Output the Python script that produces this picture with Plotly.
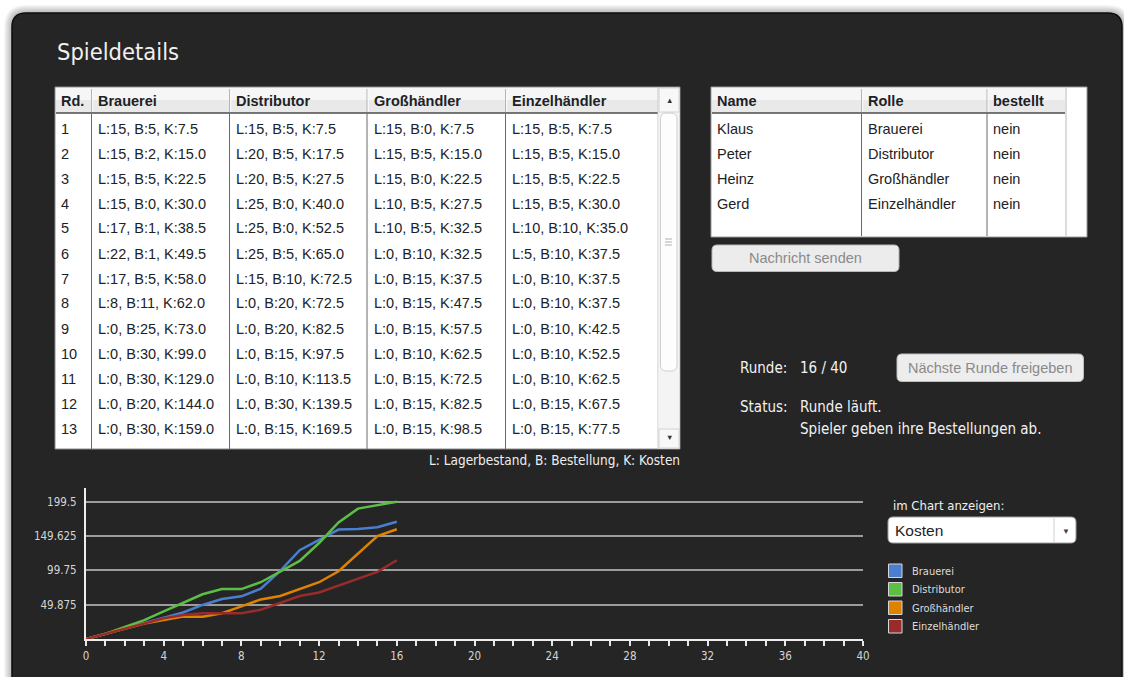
import plotly.graph_objects as go

W, H = 1124, 677

# ---------------- data ----------------
ROLES = ["Brauerei", "Distributor", "Großhändler", "Einzelhändler"]
COLORS = ["#4a7fd0", "#5cbf45", "#de8200", "#982b2b"]

# table (rounds 1..13): Lagerbestand, Bestellung, Kosten
table_rounds = list(range(1, 14))
brauerei_L = [15, 15, 15, 15, 17, 22, 17, 8, 0, 0, 0, 0, 0]
brauerei_B = [5, 2, 5, 0, 1, 1, 5, 11, 25, 30, 30, 20, 30]
brauerei_K = [7.5, 15.0, 22.5, 30.0, 38.5, 49.5, 58.0, 62.0, 73.0, 99.0, 129.0, 144.0, 159.0]
distributor_L = [15, 20, 20, 25, 25, 25, 15, 0, 0, 0, 0, 0, 0]
distributor_B = [5, 5, 5, 0, 0, 5, 10, 20, 20, 15, 10, 30, 15]
distributor_K = [7.5, 17.5, 27.5, 40.0, 52.5, 65.0, 72.5, 72.5, 82.5, 97.5, 113.5, 139.5, 169.5]
gross_L = [15, 15, 15, 10, 10, 0, 0, 0, 0, 0, 0, 0, 0]
gross_B = [0, 5, 0, 5, 5, 10, 15, 15, 15, 10, 15, 15, 15]
gross_K = [7.5, 15.0, 22.5, 27.5, 32.5, 32.5, 37.5, 47.5, 57.5, 62.5, 72.5, 82.5, 98.5]
einzel_L = [15, 15, 15, 15, 10, 5, 0, 0, 0, 0, 0, 0, 0]
einzel_B = [5, 5, 5, 5, 10, 10, 10, 10, 10, 10, 10, 15, 15]
einzel_K = [7.5, 15.0, 22.5, 30.0, 35.0, 37.5, 37.5, 37.5, 42.5, 52.5, 62.5, 67.5, 77.5]

# chart (rounds 0..16): cumulative costs
chart_rounds = list(range(0, 17))
cost_brauerei = [0, 7.5, 15, 22.5, 30, 38.5, 49.5, 58, 62, 73, 99, 129, 144, 159, 160, 162.5, 170.5]
cost_distributor = [0, 7.5, 17.5, 27.5, 40, 52.5, 65, 72.5, 72.5, 82.5, 97.5, 113.5, 139.5, 169.5, 189.5, 194.5, 199.5]
cost_gross = [0, 7.5, 15, 22.5, 27.5, 32.5, 32.5, 37.5, 47.5, 57.5, 62.5, 72.5, 82.5, 98.5, 124.5, 149.5, 159.5]
cost_einzel = [0, 7.5, 15, 22.5, 30, 35, 37.5, 37.5, 37.5, 42.5, 52.5, 62.5, 67.5, 77.5, 87.5, 97.5, 114.5]

y_tickvals = [49.875, 99.75, 149.625, 199.5]
y_ticktext = ["49.875", "99.75", "149.625", "199.5"]
x_max_rounds = 40

player_names = ["Klaus", "Peter", "Heinz", "Gerd"]
player_roles = ["Brauerei", "Distributor", "Großhändler", "Einzelhändler"]
player_ordered = ["nein", "nein", "nein", "nein"]

current_round, total_rounds = 16, 40

# ---------------- helpers ----------------
UI = "DejaVu Sans Condensed, Liberation Sans Narrow, Roboto Condensed, DejaVu Sans, sans-serif"
TF = "Liberation Sans, Arial, Helvetica, sans-serif"

shapes, annots = [], []


def X(p):
    return p / W


def Y(p):
    return 1 - p / H


def rect(x0, y0, x1, y1, fill, line=None, lw=1, opacity=1):
    shapes.append(dict(type="rect", xref="paper", yref="paper", x0=X(x0), x1=X(x1),
                       y0=Y(y1), y1=Y(y0), fillcolor=fill, opacity=opacity,
                       line=dict(color=line if line else "rgba(0,0,0,0)", width=lw if line else 0),
                       layer="below"))


def rrect(x0, y0, x1, y1, r, fill, line=None, lw=1, opacity=1):
    def P(a, b):
        return f"{X(a):.6f},{Y(b):.6f}"
    path = (f"M {P(x0 + r, y0)} L {P(x1 - r, y0)} Q {P(x1, y0)} {P(x1, y0 + r)} "
            f"L {P(x1, y1 - r)} Q {P(x1, y1)} {P(x1 - r, y1)} L {P(x0 + r, y1)} "
            f"Q {P(x0, y1)} {P(x0, y1 - r)} L {P(x0, y0 + r)} Q {P(x0, y0)} {P(x0 + r, y0)} Z")
    shapes.append(dict(type="path", xref="paper", yref="paper", path=path, fillcolor=fill,
                       opacity=opacity,
                       line=dict(color=line if line else "rgba(0,0,0,0)", width=lw if line else 0),
                       layer="below"))


def seg(x0, y0, x1, y1, color, w=1):
    shapes.append(dict(type="line", xref="paper", yref="paper", x0=X(x0), x1=X(x1),
                       y0=Y(y0), y1=Y(y1), line=dict(color=color, width=w), layer="below"))


def text(x, y, s, size, color, family, xanchor="left", weight="normal"):
    annots.append(dict(x=X(x), y=Y(y), xref="paper", yref="paper", text=s, showarrow=False,
                       xanchor=xanchor, yanchor="middle", borderpad=0,
                       font=dict(size=size, color=color, family=family, weight=weight)))


# ---------------- background panel ----------------
for i in range(8, 0, -1):
    rrect(12 - i, 13 - i, 1122 + i, 700 + i, 14 + i, "#000000", opacity=0.035)
rrect(12, 13, 1122, 700, 14, "#252525", line="#0d0d0d", lw=1.5)

text(56, 52, "Spieldetails", 23.5, "#f0f0f0", UI)

# ---------------- left table ----------------
TX0, TX1, TY0, TY1 = 55, 680, 87, 449
HY0, HY1 = 88, 113
col_x = [55, 91.5, 229.5, 367, 505.5, 658]
rect(TX0, TY0, TX1, TY1, "#ffffff", line="#8a8a8a", lw=1)
rect(TX0 + 1, HY0, 658, HY0 + 12, "#f6f6f6")
rect(TX0 + 1, HY0 + 12, 658, HY1, "#e9e9e9")
seg(TX0 + 1, HY1, 658, HY1, "#4a4a4a", 1.5)
for cx in col_x[1:-1]:
    seg(cx, HY0 + 1, cx, HY1 - 1, "#b5b5b5", 1)
    seg(cx + 1.3, HY0 + 1, cx + 1.3, HY1 - 1, "#fbfbfb", 1)
    seg(cx, HY1 + 1, cx, TY1, "#6a6a6a", 1)
seg(658, HY0, 658, TY1, "#c8c8c8", 1)

# scrollbar
rect(658.5, HY0, TX1 - 0.5, TY1 - 0.5, "#f4f4f4")
rect(659, HY0, TX1 - 1, 112, "#f8f8f8", line="#c9c9c9", lw=0.8)
text(669, 100.5, "▲", 7.5, "#333333", TF, xanchor="center")
rrect(660.5, 113, 677, 371, 6, "#fdfdfd", line="#c4c4c4", lw=0.8)
for gy in (239, 242, 245):
    seg(665, gy, 672, gy, "#b0b0b0", 1)
rect(659, 429, TX1 - 1, TY1 - 1, "#f8f8f8", line="#c9c9c9", lw=0.8)
text(669, 438, "▼", 7.5, "#333333", TF, xanchor="center")

TXT = "#1d2226"
headers = ["Rd.", "Brauerei", "Distributor", "Großhändler", "Einzelhändler"]
text_x = [60, 96.5, 234.5, 372.5, 510.5]
for hx, h in zip(text_x, headers):
    text(hx, 100.5, h, 14.5, TXT, TF, weight="bold")

role_cols = [(brauerei_L, brauerei_B, brauerei_K), (distributor_L, distributor_B, distributor_K),
             (gross_L, gross_B, gross_K), (einzel_L, einzel_B, einzel_K)]
for i, rd in enumerate(table_rounds):
    ry = 128.5 + 25 * i
    text(text_x[0], ry, str(rd), 14.5, TXT, TF)
    for c, (Ls, Bs, Ks) in enumerate(role_cols):
        text(text_x[c + 1], ry, f"L:{Ls[i]}, B:{Bs[i]}, K:{Ks[i]:.1f}", 14.5, TXT, TF)

text(681, 460.5, "L: Lagerbestand, B: Bestellung, K: Kosten", 13.5, "#eeeeee", UI, xanchor="right")

# ---------------- right table ----------------
RX0, RX1, RY0, RY1 = 711, 1087, 87, 237
rect(RX0, RY0, RX1, RY1, "#ffffff", line="#9a9a9a", lw=1)
rect(RX0 + 1, HY0, 1065, HY0 + 12, "#f6f6f6")
rect(RX0 + 1, HY0 + 12, 1065, HY1, "#e9e9e9")
seg(RX0 + 1, HY1, 1065, HY1, "#4a4a4a", 1.5)
seg(1066, HY0, 1066, RY1 - 1, "#dcdcdc", 2)
for cx in (861.5, 987):
    seg(cx, HY0 + 1, cx, HY1 - 1, "#b5b5b5", 1)
    seg(cx + 1.3, HY0 + 1, cx + 1.3, HY1 - 1, "#fbfbfb", 1)
    seg(cx, HY1 + 1, cx, RY1 - 1, "#6a6a6a", 1)
r_x = [716, 867, 991.5]
for hx, h in zip(r_x, ["Name", "Rolle", "bestellt"]):
    text(hx, 100.5, h, 14.5, TXT, TF, weight="bold")
for i in range(len(player_names)):
    ry = 128.5 + 25 * i
    text(r_x[0], ry, player_names[i], 14.5, TXT, TF)
    text(r_x[1], ry, player_roles[i], 14.5, TXT, TF)
    text(r_x[2], ry, player_ordered[i], 14.5, TXT, TF)

# buttons
rrect(712, 245, 899, 271.5, 5, "#ececec", line="#b8b8b8", lw=1)
text(805.5, 258.5, "Nachricht senden", 14.5, "#8a8a8a", TF, xanchor="center")
rrect(897, 354, 1083.5, 381.5, 5, "#ededed", line="#bdbdbd", lw=1)
text(990, 367.5, "Nächste Runde freigeben", 14.5, "#8a8a8a", TF, xanchor="center")

# status
text(738.5, 368, "Runde:", 15, "#f2f2f2", UI)
text(799, 368, f"{current_round} / {total_rounds}", 15, "#f2f2f2", UI)
text(738.5, 406.5, "Status:", 15, "#f2f2f2", UI)
text(799, 406.5, "Runde läuft.", 15, "#f2f2f2", UI)
text(799, 428.5, "Spieler geben ihre Bestellungen ab.", 15, "#f2f2f2", UI)

# ---------------- chart selector + legend ----------------
text(891.5, 505, "im Chart anzeigen:", 13, "#f0f0f0", UI)
rrect(888, 517, 1076, 543, 5, "#ffffff", line="#a0a0a0", lw=1)
seg(1054, 518, 1054, 542, "#d0d0d0", 1)
text(893.5, 530.5, "Kosten", 15.5, TXT, TF)
text(1065.5, 531, "▼", 8, "#444444", TF, xanchor="center")

leg_y = [571, 589.5, 608, 626.5]
for ly, name, col in zip(leg_y, ROLES, COLORS):
    rect(888.5, ly - 7, 902, ly + 6.5, col, line="#d8d8d8", lw=1)
    text(910.5, ly, name, 11, "#dcdcdc", UI)

# ---------------- chart ----------------
fig = go.Figure()
for name, col, ys in zip(ROLES, COLORS, [cost_brauerei, cost_distributor, cost_gross, cost_einzel]):
    fig.add_trace(go.Scatter(x=chart_rounds, y=ys, mode="lines", name=name,
                             line=dict(color=col, width=2.5), showlegend=False, hoverinfo="skip"))

y_top = max(y_tickvals) * 1.1
fig.update_layout(
    width=W, height=H, margin=dict(l=0, r=0, t=0, b=0),
    paper_bgcolor="#ffffff", plot_bgcolor="rgba(0,0,0,0)",
    shapes=shapes, annotations=annots, showlegend=False,
    xaxis=dict(domain=[X(86), X(863)], range=[0, x_max_rounds], tick0=0, dtick=4,
               ticks="outside", ticklen=5, tickwidth=1.5, tickcolor="#e6e6e6",
               minor=dict(dtick=1, ticks="outside", ticklen=5, tickwidth=1.5, tickcolor="#e6e6e6", showgrid=False),
               showgrid=False, zeroline=False, showline=True, linecolor="#eeeeee", linewidth=2,
               tickfont=dict(family=UI, size=11.5, color="#d4d4d4"), automargin=False, fixedrange=True),
    yaxis=dict(domain=[Y(639), Y(488)], range=[0, y_top], tickvals=y_tickvals, ticktext=y_ticktext,
               showgrid=True, gridcolor="#9c9c9c", gridwidth=1.5, zeroline=False,
               showline=True, linecolor="#eeeeee", linewidth=2, ticks="",
               ticklabelstandoff=5,
               tickfont=dict(family=UI, size=11.5, color="#d4d4d4"), automargin=False, fixedrange=True),
)

fig.write_html("out.html", config={"displayModeBar": False},
               post_script="document.body.style.margin='0';document.body.style.overflow='hidden';")
